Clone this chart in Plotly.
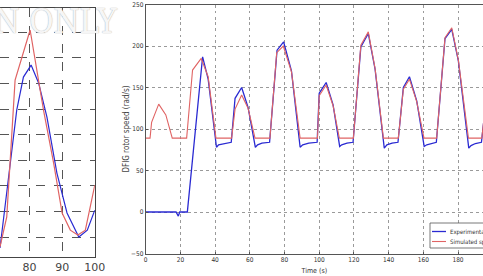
import plotly.graph_objects as go

# ---------------- Right panel data (DFIG rotor speed) ----------------
sim_t = [0, 2.5, 3.4, 7.5, 11.6, 15.3, 23.6, 27.0, 32.0, 36.0, 40.5, 49.5, 51.5, 55.3, 59.0, 63.0,
         71.6, 75.5, 79.3, 84.0, 89.0, 99.0, 100.0, 104.0, 108.0, 111.6, 119.7, 124.0, 128.3, 132.2,
         137.0, 145.6, 148.5, 152.0, 156.2, 160.4, 167.7, 172.5, 176.4, 180.2, 186.0, 193.7, 197.0, 200.0]
sim_y = [89, 89, 108, 130, 117, 89, 89, 171, 185, 163, 89, 89, 124, 141, 125, 89,
         89, 192, 200, 169, 89, 89, 140, 153, 128, 89, 89, 201, 217, 173,
         89, 89, 148, 160, 133, 89, 89, 210, 222, 183, 89, 89, 150, 160]

exp_t = [0, 17.5, 18.8, 19.6, 24.0, 29.5, 32.8, 36.0, 40.8, 42.0, 45.0, 49.3, 51.5, 55.3, 59.0,
         63.2, 64.5, 67.0, 71.4, 75.7, 79.5, 84.0, 89.0, 90.5, 94.0, 98.8, 100.0, 104.0, 108.0,
         111.8, 113.0, 116.0, 119.5, 124.0, 128.3, 132.2, 137.5, 139.0, 142.0, 145.4, 148.5, 152.0,
         156.2, 160.5, 162.0, 165.0, 167.5, 172.5, 176.4, 180.2, 186.2, 187.5, 190.0, 193.5, 197.0, 200.0]
exp_y = [0, 0, -5, 0, 0, 120, 187, 160, 78, 81, 82.5, 84, 137, 150, 126,
         78, 81, 83, 84, 195, 205, 170, 78, 81, 83, 84, 143, 156, 129,
         79, 81, 83, 84, 199, 215, 172, 77, 81, 83, 84, 150, 163,
         134, 79, 81, 83, 84, 209, 220, 182, 77, 80, 82.5, 84, 150, 160]

right_xticks = [0, 20, 40, 60, 80, 100, 120, 140, 160, 180, 200]
right_yticks = [-50, 0, 50, 100, 150, 200, 250]
legend_labels = ["Experimental speed", "Simulated speed"]

# ---------------- Left (cropped) panel data ----------------
left_red_x = [70.98, 73.05, 75.6, 80.2, 84.3, 87.4, 90.0, 92.5, 94.8, 97.1, 100.0]
left_red_y = [0.62, 1.79, 7.13, 9.09, 5.96, 3.89, 1.94, 1.27, 1.08, 1.27, 3.03]
left_blue_x = [70.98, 74.06, 76.1, 78.15, 80.5, 82.8, 85.35, 88.4, 91.5, 95.1, 97.7, 100.0]
left_blue_y = [0.57, 3.73, 5.96, 7.25, 7.72, 7.02, 5.69, 3.5, 1.94, 1.0, 1.27, 2.05]
left_xticks = [70, 80, 90, 100]

W, H = 483, 276
BLUE = "#2a2ad2"
RED = "#e06464"
NARROW = "Liberation Sans Narrow, DejaVu Sans Condensed, Arial Narrow, sans-serif"
TICKFONT = dict(family=NARROW, size=6.5, color="#333333")

fig = go.Figure()

# left panel
fig.add_trace(go.Scatter(x=left_blue_x, y=left_blue_y, mode="lines", line=dict(color=BLUE, width=1.2),
                         xaxis="x2", yaxis="y2", showlegend=False))
fig.add_trace(go.Scatter(x=left_red_x, y=left_red_y, mode="lines", line=dict(color=RED, width=1.2),
                         xaxis="x2", yaxis="y2", showlegend=False))

# right panel
fig.add_trace(go.Scatter(x=exp_t, y=exp_y, mode="lines", name=legend_labels[0],
                         line=dict(color=BLUE, width=1.3), showlegend=False))
fig.add_trace(go.Scatter(x=sim_t, y=sim_y, mode="lines", name=legend_labels[1],
                         line=dict(color=RED, width=1.1), showlegend=False))

fig.update_layout(
    width=W, height=H,
    margin=dict(l=0, r=0, t=0, b=0, autoexpand=False),
    paper_bgcolor="white", plot_bgcolor="white",
    xaxis=dict(domain=[145.7 / W, 1], range=[0, 194.4], tickvals=right_xticks,
               showgrid=True, gridcolor="#9a9a9a", griddash="dot", gridwidth=1,
               showline=True, linecolor="#555555", linewidth=1, mirror=True,
               ticks="inside", ticklen=2, tickcolor="#555555",
               tickfont=TICKFONT, zeroline=False,
               title=dict(text="Time (s)", font=dict(TICKFONT, size=7), standoff=4)),
    yaxis=dict(domain=[1 - 253.5 / H, 1 - 4.5 / H], range=[-50, 250], tickvals=right_yticks,
               showgrid=True, gridcolor="#9a9a9a", griddash="dot", gridwidth=1,
               showline=True, linecolor="#555555", linewidth=1,
               ticks="inside", ticklen=2, tickcolor="#555555",
               tickfont=TICKFONT, zeroline=False,
               title=dict(text="DFIG rotor speed (rad/s)", font=dict(family=NARROW, size=8, color="#444444"),
                          standoff=0)),
    xaxis2=dict(domain=[0, 94.8 / W], range=[70.98, 100], tickvals=left_xticks, anchor="y2",
                showgrid=True, gridcolor="#555555", griddash="dash", gridwidth=1,
                showline=True, linecolor="#444444", linewidth=1, mirror=True,
                ticks="", tickfont=dict(family="DejaVu Sans, sans-serif", size=11, color="#444444"),
                zeroline=False),
    yaxis2=dict(domain=[1 - 257 / H, 1 - 8 / H], range=[0.22, 9.95], dtick=1, anchor="x2", side="right",
                showgrid=True, gridcolor="#555555", griddash="dash", gridwidth=1,
                showline=True, linecolor="#444444", linewidth=1,
                ticks="", showticklabels=False, zeroline=False),
    showlegend=False,
)


def px(x):
    return x / W


def py(y):
    return 1 - y / H


# compact legend box (bottom right, cut by the picture edge like the reference)
fig.add_shape(type="rect", xref="paper", yref="paper", x0=px(430), x1=px(495), y0=py(248), y1=py(223),
              line=dict(color="#555555", width=0.8), fillcolor="white", layer="above")
for i, (lab, col, w) in enumerate(zip(legend_labels, [BLUE, RED], [1.3, 1.1])):
    yy = 231.5 + i * 10
    fig.add_shape(type="line", xref="paper", yref="paper", x0=px(432), x1=px(446), y0=py(yy), y1=py(yy),
                  line=dict(color=col, width=w), layer="above")
    fig.add_annotation(text=lab, xref="paper", yref="paper", x=px(448), y=py(yy), xanchor="left",
                       yanchor="middle", showarrow=False, font=dict(family=NARROW, size=6, color="#333333"))

# faint watermark
fig.add_annotation(text="EVALUATION ONLY", xref="paper", yref="paper", x=px(119), y=1.0,
                   xanchor="right", yanchor="top", showarrow=False,
                   font=dict(family="DejaVu Serif Condensed, Liberation Serif, serif", size=33,
                             color="rgba(255,255,255,0.9)",
                             shadow="0px 0px 1px #b8b8b8, 0px 0px 1px #b8b8b8"))

fig.write_html("out.html")
